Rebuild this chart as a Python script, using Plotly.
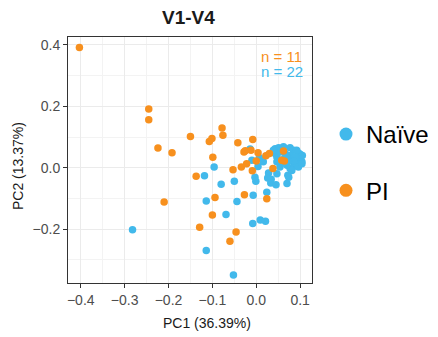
import plotly.graph_objects as go

title_text = "V1-V4"
x_title = "PC1 (36.39%)"
y_title = "PC2 (13.37%)"
groups = ["Naïve", "PI"]
group_colors = ["#42B9EB", "#F7901E"]
n_labels = ["n = 11", "n = 22"]
n_colors = ["#F7901E", "#42B9EB"]

naive_pc1 = [-0.282, -0.118, -0.096, -0.080, -0.114, -0.069, -0.114, -0.052, -0.050, -0.044,
             -0.007, -0.008, 0.009, 0.021, 0.024, -0.003, -0.001, 0.004, -0.014, 0.007,
             -0.010, 0.028, 0.026, 0.034, 0.033, 0.045, 0.070, 0.072, 0.074, 0.047,
             0.054, 0.016,
             0.043, 0.051, 0.062, 0.077, 0.085, 0.096, 0.100, 0.105, 0.098, 0.104,
             0.092, 0.085, 0.077, 0.070, 0.062, 0.054, 0.047, 0.043, 0.054, 0.066,
             0.077, 0.089, 0.085, 0.073, 0.064, 0.096, 0.104, 0.081, 0.047, 0.039,
             0.092, 0.070]
naive_pc2 = [-0.202, -0.026, 0.002, -0.054, -0.109, -0.153, -0.270, -0.350, -0.044, -0.110,
             -0.090, -0.182, -0.171, -0.175, -0.080, -0.031, -0.044, 0.004, 0.061, 0.032,
             0.024, -0.017, -0.034, -0.038, -0.050, -0.056, -0.052, -0.025, -0.031, -0.020,
             0.002, 0.019,
             0.062, 0.065, 0.068, 0.065, 0.057, 0.048, 0.044, 0.040, 0.029, 0.019,
             0.013, 0.004, -0.003, 0.008, 0.015, 0.024, 0.035, 0.046, 0.051, 0.046,
             0.040, 0.035, 0.022, 0.022, 0.029, 0.002, 0.013, -0.009, 0.019, 0.057,
             0.057, 0.035]

pi_pc1 = [-0.403, -0.245, -0.245, -0.224, -0.192, -0.210, -0.150, -0.107, -0.101, -0.078,
          -0.076, -0.099, -0.137, -0.042, -0.008, -0.028, -0.025, -0.012, 0.004, -0.034,
          -0.022, -0.053, -0.009, -0.094, -0.027, -0.100, -0.129, -0.046, -0.060, 0.024,
          0.022, 0.030, 0.038, 0.062, 0.064, 0.000, 0.058]
pi_pc2 = [0.392, 0.191, 0.156, 0.064, 0.049, -0.112, 0.102, 0.085, 0.095, 0.129,
          0.106, 0.034, -0.028, 0.081, 0.092, 0.051, 0.055, 0.057, 0.049, 0.002,
          0.013, -0.007, -0.010, -0.097, -0.088, -0.154, -0.194, -0.210, -0.240, -0.101,
          0.039, 0.046, -0.003, 0.054, 0.022, 0.022, 0.024]

font_family = "Liberation Sans, Arial, sans-serif"

fig = go.Figure()
fig.add_trace(go.Scatter(x=naive_pc1, y=naive_pc2, mode="markers", showlegend=False,
                         marker=dict(color=group_colors[0], size=7.5, line=dict(width=0))))
fig.add_trace(go.Scatter(x=pi_pc1, y=pi_pc2, mode="markers", showlegend=False,
                         marker=dict(color=group_colors[1], size=7.5, line=dict(width=0))))
for i, g in enumerate(groups):
    fig.add_trace(go.Scatter(x=[None], y=[None], mode="markers", name=g, legendgroup=g,
                             marker=dict(color=group_colors[i], size=13)))

axis_common = dict(
    showline=True, linecolor="#333333", linewidth=1, mirror=True,
    ticks="outside", ticklen=4, tickcolor="#333333", tickwidth=1,
    showgrid=True, gridcolor="#EBEBEB", gridwidth=1.2, zeroline=False,
    tickfont=dict(family=font_family, size=14, color="#4D4D4D"),
)
fig.update_xaxes(range=[-0.429, 0.127], tickvals=[-0.4, -0.3, -0.2, -0.1, 0.0, 0.1],
                 ticktext=["\u22120.4", "\u22120.3", "\u22120.2", "\u22120.1", "0.0", "0.1"],
                 minor=dict(tickvals=[-0.35, -0.25, -0.15, -0.05, 0.05], showgrid=True,
                            gridcolor="#F3F3F3", gridwidth=0.8, ticks=""),
                 **axis_common)
fig.update_yaxes(range=[-0.376, 0.426], tickvals=[-0.2, 0.0, 0.2, 0.4],
                 ticktext=["\u22120.2", "0.0", "0.2", "0.4"],
                 minor=dict(tickvals=[-0.3, -0.1, 0.1, 0.3], showgrid=True,
                            gridcolor="#F3F3F3", gridwidth=0.8, ticks=""),
                 **axis_common)

L, R, T, B = 68, 126, 37, 54
W, H = 438 - L - R, 337 - T - B
def px(xp):
    return (xp - L) / W
def py(yp):
    return (337 - B - yp) / H
annotations = [
    dict(text="<b>" + title_text + "</b>", x=px(188), y=py(17), xref="paper", yref="paper",
         showarrow=False, xanchor="center", yanchor="middle",
         font=dict(family=font_family, size=19, color="#1A1A1A")),
    dict(text=x_title, x=px(207), y=py(323), xref="paper", yref="paper", showarrow=False,
         xanchor="center", yanchor="middle", font=dict(family=font_family, size=14, color="#1A1A1A")),
    dict(text=y_title, x=px(18), y=py(166), xref="paper", yref="paper", showarrow=False,
         textangle=-90, xanchor="center", yanchor="middle",
         font=dict(family=font_family, size=14, color="#1A1A1A")),
    dict(text=n_labels[0], x=px(259), y=py(56), xref="paper", yref="paper", showarrow=False,
         xanchor="left", yanchor="middle", font=dict(family=font_family, size=15, color=n_colors[0])),
    dict(text=n_labels[1], x=px(259), y=py(71), xref="paper", yref="paper", showarrow=False,
         xanchor="left", yanchor="middle", font=dict(family=font_family, size=15, color=n_colors[1])),
]

fig.update_layout(
    width=438, height=337,
    margin=dict(l=L, r=R, t=T, b=B, autoexpand=False),
    paper_bgcolor="white", plot_bgcolor="white",
    annotations=annotations,
    legend=dict(x=px(326), y=py(112), xref="paper", yref="paper", xanchor="left", yanchor="top",
                font=dict(family=font_family, size=24, color="#000000"),
                traceorder="grouped", tracegroupgap=22, itemwidth=30,
                bgcolor="rgba(0,0,0,0)"),
)

fig.write_html("out.html")
